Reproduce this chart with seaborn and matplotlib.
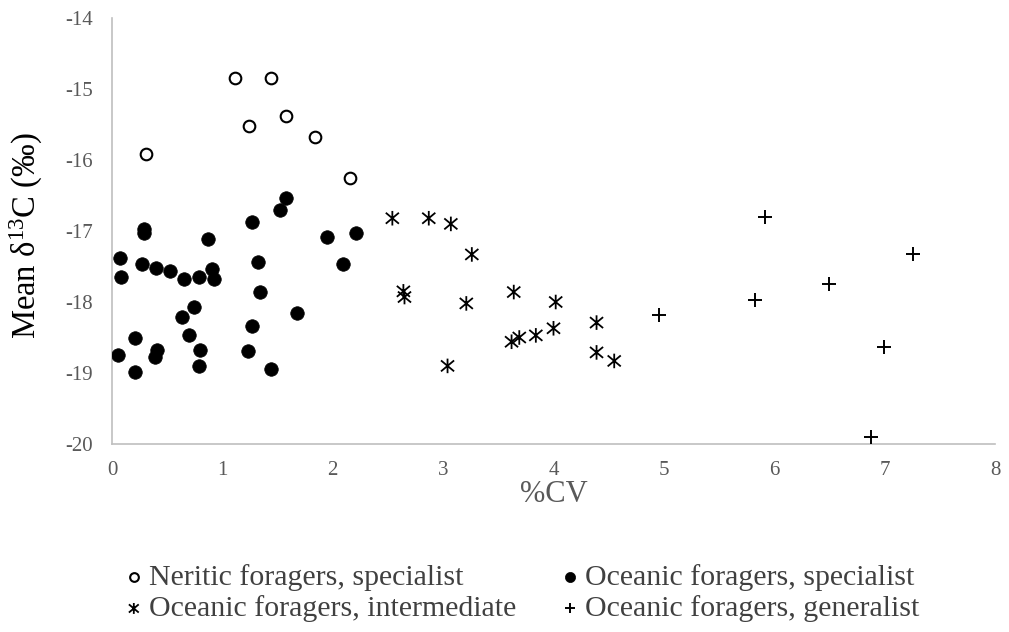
import numpy as np
import pandas as pd
import matplotlib
matplotlib.use("Agg")
import matplotlib.pyplot as plt
from matplotlib.path import Path
import seaborn as sns

# ---- data ----
neritic_x = [1.11, 1.44, 1.24, 1.58, 1.84, 0.31, 2.16]
neritic_y = [-14.85, -14.85, -15.52, -15.38, -15.67, -15.92, -16.26]

spec_x = [1.58, 1.52, 1.27, 0.29, 0.29, 0.87, 1.95, 2.21, 0.07, 0.08, 0.27, 0.40,
          0.53, 0.65, 0.79, 0.91, 0.92, 1.32, 1.34, 2.09, 0.74, 0.63, 1.68, 0.21,
          0.70, 1.27, 0.05, 0.41, 0.39, 0.80, 1.23, 0.21, 0.79, 1.44]
spec_y = [-16.53, -16.71, -16.87, -16.97, -17.03, -17.11, -17.09, -17.03, -17.38,
          -17.65, -17.46, -17.52, -17.57, -17.67, -17.65, -17.54, -17.68, -17.43,
          -17.86, -17.46, -18.07, -18.21, -18.15, -18.50, -18.47, -18.34, -18.74,
          -18.68, -18.77, -18.67, -18.69, -18.98, -18.90, -18.95]

inter_x = [2.54, 2.87, 3.07, 3.26, 2.64, 2.65, 3.21, 3.64, 4.02, 3.62, 3.69, 3.84,
           4.00, 4.39, 4.39, 4.55, 3.04]
inter_y = [-16.82, -16.82, -16.90, -17.33, -17.85, -17.93, -18.02, -17.86, -18.00,
           -18.56, -18.50, -18.47, -18.37, -18.29, -18.71, -18.83, -18.90]

gen_x = [5.92, 7.26, 6.50, 5.83, 4.96, 6.99, 6.88]
gen_y = [-16.80, -17.33, -17.74, -17.97, -18.18, -18.63, -19.90]

labels = ["Neritic foragers, specialist", "Oceanic foragers, specialist",
          "Oceanic foragers, intermediate", "Oceanic foragers, generalist"]
x_ticks = [0, 1, 2, 3, 4, 5, 6, 7, 8]
y_ticks = [-20, -19, -18, -17, -16, -15, -14]

# ---- style ----
sns.set_style("white")
plt.rcParams["font.family"] = ["Liberation Serif", "DejaVu Serif"]
plt.rcParams["mathtext.fontset"] = "custom"
plt.rcParams["mathtext.rm"] = "Liberation Serif"
plt.rcParams["mathtext.it"] = "Liberation Serif:italic"

fig = plt.figure(figsize=(10.09, 6.32), dpi=100)
ax = fig.add_axes([112 / 1009, 1 - 444 / 632, (995 - 112) / 1009, (444 - 18) / 632])

ast = Path([(0, 1), (0, -1), (-0.9, 0.75), (0.9, -0.75), (-0.9, -0.75), (0.9, 0.75)],
           [Path.MOVETO, Path.LINETO, Path.MOVETO, Path.LINETO, Path.MOVETO, Path.LINETO])

df_n = pd.DataFrame({"x": neritic_x, "y": neritic_y})
df_s = pd.DataFrame({"x": spec_x, "y": spec_y})
df_i = pd.DataFrame({"x": inter_x, "y": inter_y})
df_g = pd.DataFrame({"x": gen_x, "y": gen_y})

sns.scatterplot(data=df_n, x="x", y="y", ax=ax, marker="o", s=70,
                facecolor="white", edgecolor="black", linewidth=1.5, label=labels[0], zorder=3)
sns.scatterplot(data=df_s, x="x", y="y", ax=ax, marker="o", s=95,
                color="black", edgecolor="black", linewidth=0.5, label=labels[1], zorder=3)
sns.scatterplot(data=df_i, x="x", y="y", ax=ax, marker=ast, s=110,
                facecolor="none", edgecolor="black", linewidth=1.3, label=labels[2], zorder=3)
sns.scatterplot(data=df_g, x="x", y="y", ax=ax, marker="+", s=110,
                color="black", linewidth=1.4, label=labels[3], zorder=3)

ax.set_xlim(0, 8)
ax.set_ylim(-20, -14)
ax.set_xticks(x_ticks)
ax.set_yticks(y_ticks)
ax.set_xticklabels([str(v) for v in x_ticks])
ax.set_yticklabels([str(v) for v in y_ticks])
ax.tick_params(axis="both", length=0, labelsize=15, labelcolor="#595959")
ax.tick_params(axis="y", pad=14)
ax.tick_params(axis="x", pad=12)
for side in ["top", "right"]:
    ax.spines[side].set_visible(False)
for side in ["left", "bottom"]:
    ax.spines[side].set_color("#BFBFBF")
    ax.spines[side].set_linewidth(1.2)
ax.grid(False)

ax.set_xlabel("%CV", fontsize=22, color="#595959")
ax.xaxis.set_label_coords(0.5, -0.085)
ax.set_ylabel(r"Mean δ$^{\mathregular{13}}$C ($\it{‰}$)", fontsize=23.5, color="black")
ax.yaxis.set_label_coords(-0.076, 0.49)

h, l = ax.get_legend_handles_labels()
if ax.get_legend() is not None:
    ax.get_legend().remove()
order = [0, 2, 1, 3]
fig.legend([h[i] for i in order], [l[i] for i in order], ncol=2, frameon=False,
           loc="upper left", bbox_to_anchor=(92 / 1009, 1 - 537 / 632),
           fontsize=21.5, markerscale=0.75, handletextpad=0.0, handlelength=1.0,
           labelspacing=0.15, columnspacing=1.3, labelcolor="#404040")

fig.savefig("out.png", dpi=100)
